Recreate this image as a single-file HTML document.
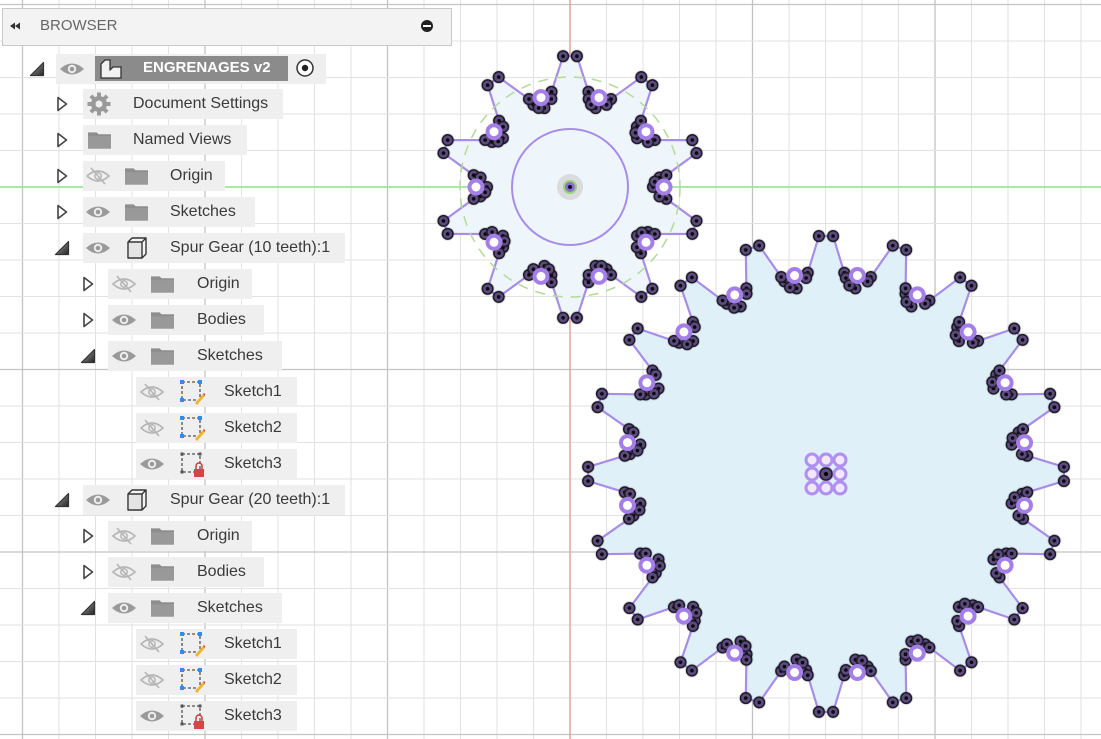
<!DOCTYPE html>
<html><head><meta charset="utf-8">
<style>
html,body{margin:0;padding:0;background:#fff;}
#wrap{position:relative;width:1101px;height:739px;overflow:hidden;background:#fff;font-family:"Liberation Sans",sans-serif;}
svg{position:absolute;left:0;top:0;}
.row{position:absolute;height:30px;background:#efefef;}
.t{position:absolute;font-size:16px;color:#3a3a3a;line-height:18px;white-space:nowrap;}
.ic{position:absolute;}
#hdr{position:absolute;left:2px;top:8px;width:448px;height:36px;background:#f3f3f3;border:1px solid #c9c9c9;}
</style></head><body>
<div id="wrap">
<svg id="cv" width="1101" height="739" viewBox="0 0 1101 739"></svg>

<svg width="1101" height="739" style="pointer-events:none">
<defs>
<symbol id="triO" viewBox="0 0 12 16"><path d="M2 1.5 L10.5 8 L2 14.5 Z" fill="#fff" stroke="#444" stroke-width="1.6" stroke-linejoin="round"/></symbol>
<symbol id="triD" viewBox="0 0 16 16"><defs><linearGradient id="gd" x1="0" y1="0" x2="1" y2="1"><stop offset="0" stop-color="#aaa"/><stop offset="1" stop-color="#222"/></linearGradient></defs><path d="M1.5 14.5 L14.5 1.5 L14.5 14.5 Z" fill="url(#gd)" stroke="#333" stroke-width="1.2" stroke-linejoin="round"/></symbol>
<symbol id="eye" viewBox="0 0 26 16"><path d="M1 8 Q13 -3 25 8 Q13 19 1 8 Z" fill="#9a9a9a"/><circle cx="13" cy="8" r="4.2" fill="#efefef"/><circle cx="13" cy="8" r="2.3" fill="#9a9a9a"/></symbol>
<symbol id="eyeO" viewBox="0 0 26 18"><path d="M2 9 Q13 -1 24 9 Q13 19 2 9 Z" fill="none" stroke="#b5b5b5" stroke-width="1.6"/><circle cx="13" cy="9" r="3.2" fill="none" stroke="#b5b5b5" stroke-width="1.5"/><line x1="6" y1="1" x2="20" y2="17" stroke="#b5b5b5" stroke-width="1.6"/></symbol>
<symbol id="fold" viewBox="0 0 24 18"><path d="M0 1 H9 L11 3 H24 V18 H0 Z" fill="#8e8e8e"/><rect x="0" y="5" width="24" height="13" fill="#999"/></symbol>
<symbol id="cube" viewBox="0 0 22 24"><path d="M2 6 L6 2 H20 V18 L16 22 H2 Z" fill="#f4f4f4" stroke="#333" stroke-width="1.4" stroke-linejoin="round"/><path d="M2 6 H16 V22 M16 6 L20 2" fill="none" stroke="#333" stroke-width="1.4"/><rect x="3" y="7" width="12" height="14" fill="#e4e4e4"/></symbol>
<symbol id="gear" viewBox="0 0 24 24"><g fill="#999"><circle cx="12" cy="12" r="8"/><g id="gt"><rect x="10" y="0.5" width="4" height="23"/></g><use href="#gt" transform="rotate(45 12 12)"/><use href="#gt" transform="rotate(90 12 12)"/><use href="#gt" transform="rotate(135 12 12)"/></g><circle cx="12" cy="12" r="3.5" fill="#efefef"/></symbol>
<symbol id="sk" viewBox="0 0 26 26"><rect x="3" y="3" width="18" height="18" fill="none" stroke="#555" stroke-width="1.3" stroke-dasharray="3 2"/><rect x="1" y="1" width="4" height="4" fill="#2a8ff0"/><rect x="19" y="1" width="4" height="4" fill="#2a8ff0"/><rect x="1" y="19" width="4" height="4" fill="#2a8ff0"/><path d="M16 24 L24 15 L26 17 L18 26 Z" fill="#f0b429"/><path d="M24 15 L26 17 L27 16 L25 14 Z" fill="#e03a3a"/></symbol>
<symbol id="skL" viewBox="0 0 26 26"><rect x="3" y="3" width="18" height="18" fill="none" stroke="#555" stroke-width="1.3" stroke-dasharray="3 2"/><rect x="1.5" y="1.5" width="3" height="3" fill="#555"/><rect x="19.5" y="1.5" width="3" height="3" fill="#555"/><rect x="1.5" y="19.5" width="3" height="3" fill="#555"/><path d="M17 18 V15 A3 3 0 0 1 23 15 V18" fill="none" stroke="#d03a3a" stroke-width="1.5"/><rect x="15" y="18" width="10" height="8" fill="#d64545"/></symbol>
</defs>
</svg>

<div id="hdr"></div>
<svg width="460" height="50" style="pointer-events:none">
<path d="M10 26 L15 22.5 V29.5 Z M15 26 L20 22.5 V29.5 Z" fill="#333"/>
<circle cx="427" cy="26" r="6" fill="#222"/><rect x="423" y="25" width="8" height="2" fill="#fff"/>
</svg>
<div class="t" style="left:40px;top:17px;color:#666;font-size:15px;">BROWSER</div>

<div class="row" style="left:56px;top:54px;width:270px;"></div>
<div class="row" style="left:95px;top:56px;width:193px;height:25px;background:#8b8b8b;"></div>
<div class="t" style="left:143px;top:59px;color:#fff;font-weight:bold;font-size:15px;">ENGRENAGES v2</div>

<div class="row" style="left:83px;top:89px;width:200px;"></div>
<div class="t" style="left:133px;top:95px;">Document Settings</div>
<div class="row" style="left:83px;top:125px;width:164px;"></div>
<div class="t" style="left:133px;top:131px;">Named Views</div>
<div class="row" style="left:83px;top:161px;width:142px;"></div>
<div class="t" style="left:170px;top:167px;">Origin</div>
<div class="row" style="left:83px;top:197px;width:172px;"></div>
<div class="t" style="left:170px;top:203px;">Sketches</div>
<div class="row" style="left:83px;top:233px;width:262px;"></div>
<div class="t" style="left:170px;top:239px;">Spur Gear (10 teeth):1</div>
<div class="row" style="left:108px;top:269px;width:144px;"></div>
<div class="t" style="left:197px;top:275px;">Origin</div>
<div class="row" style="left:108px;top:305px;width:156px;"></div>
<div class="t" style="left:197px;top:311px;">Bodies</div>
<div class="row" style="left:108px;top:341px;width:174px;"></div>
<div class="t" style="left:197px;top:347px;">Sketches</div>
<div class="row" style="left:136px;top:377px;width:161px;"></div>
<div class="t" style="left:224px;top:383px;">Sketch1</div>
<div class="row" style="left:136px;top:413px;width:161px;"></div>
<div class="t" style="left:224px;top:419px;">Sketch2</div>
<div class="row" style="left:136px;top:449px;width:161px;"></div>
<div class="t" style="left:224px;top:455px;">Sketch3</div>
<div class="row" style="left:83px;top:485px;width:262px;"></div>
<div class="t" style="left:170px;top:491px;">Spur Gear (20 teeth):1</div>
<div class="row" style="left:108px;top:521px;width:144px;"></div>
<div class="t" style="left:197px;top:527px;">Origin</div>
<div class="row" style="left:108px;top:557px;width:156px;"></div>
<div class="t" style="left:197px;top:563px;">Bodies</div>
<div class="row" style="left:108px;top:593px;width:174px;"></div>
<div class="t" style="left:197px;top:599px;">Sketches</div>
<div class="row" style="left:136px;top:629px;width:161px;"></div>
<div class="t" style="left:224px;top:635px;">Sketch1</div>
<div class="row" style="left:136px;top:665px;width:161px;"></div>
<div class="t" style="left:224px;top:671px;">Sketch2</div>
<div class="row" style="left:136px;top:701px;width:161px;"></div>
<div class="t" style="left:224px;top:707px;">Sketch3</div>

<svg width="460" height="739" style="pointer-events:none">
<use href="#triD" x="29" y="61" width="16" height="16"/>
<use href="#eye" x="59" y="61" width="26" height="16"/>
<rect x="100" y="58" width="22" height="21" fill="#8b8b8b"/>
<path d="M101 64 L105 60 H110 V70 H117 V78 H101 Z" fill="#f2f2f2" stroke="#333" stroke-width="1.3"/>
<path d="M110 70 L113 67 H121 V78 H117" fill="#f2f2f2" stroke="#333" stroke-width="1.3"/>
<circle cx="305" cy="68" r="8" fill="#fff" stroke="#333" stroke-width="1.5"/><circle cx="305" cy="68" r="3.2" fill="#222"/>

<use href="#triO" x="56" y="96" width="12" height="16"/>
<use href="#gear" x="87" y="92" width="24" height="24"/>
<use href="#triO" x="56" y="132" width="12" height="16"/>
<use href="#fold" x="88" y="131" width="23" height="18"/>
<use href="#triO" x="56" y="168" width="12" height="16"/>
<use href="#eyeO" x="85" y="167" width="26" height="18"/>
<use href="#fold" x="125" y="167" width="23" height="18"/>
<use href="#triO" x="56" y="204" width="12" height="16"/>
<use href="#eye" x="85" y="204" width="26" height="16"/>
<use href="#fold" x="125" y="203" width="23" height="18"/>
<use href="#triD" x="54" y="240" width="16" height="16"/>
<use href="#eye" x="85" y="240" width="26" height="16"/>
<use href="#cube" x="126" y="236" width="22" height="24"/>
<use href="#triO" x="82" y="276" width="12" height="16"/>
<use href="#eyeO" x="111" y="275" width="26" height="18"/>
<use href="#fold" x="151" y="275" width="23" height="18"/>
<use href="#triO" x="82" y="312" width="12" height="16"/>
<use href="#eye" x="111" y="312" width="26" height="16"/>
<use href="#fold" x="151" y="311" width="23" height="18"/>
<use href="#triD" x="80" y="348" width="16" height="16"/>
<use href="#eye" x="111" y="348" width="26" height="16"/>
<use href="#fold" x="151" y="347" width="23" height="18"/>
<use href="#eyeO" x="139" y="383" width="26" height="18"/>
<use href="#sk" x="179" y="379" width="26" height="26"/>
<use href="#eyeO" x="139" y="419" width="26" height="18"/>
<use href="#sk" x="179" y="415" width="26" height="26"/>
<use href="#eye" x="139" y="456" width="26" height="16"/>
<use href="#skL" x="179" y="451" width="26" height="26"/>
<use href="#triD" x="54" y="492" width="16" height="16"/>
<use href="#eye" x="85" y="492" width="26" height="16"/>
<use href="#cube" x="126" y="488" width="22" height="24"/>
<use href="#triO" x="82" y="528" width="12" height="16"/>
<use href="#eyeO" x="111" y="527" width="26" height="18"/>
<use href="#fold" x="151" y="527" width="23" height="18"/>
<use href="#triO" x="82" y="564" width="12" height="16"/>
<use href="#eyeO" x="111" y="563" width="26" height="18"/>
<use href="#fold" x="151" y="563" width="23" height="18"/>
<use href="#triD" x="80" y="600" width="16" height="16"/>
<use href="#eye" x="111" y="600" width="26" height="16"/>
<use href="#fold" x="151" y="599" width="23" height="18"/>
<use href="#eyeO" x="139" y="635" width="26" height="18"/>
<use href="#sk" x="179" y="631" width="26" height="26"/>
<use href="#eyeO" x="139" y="671" width="26" height="18"/>
<use href="#sk" x="179" y="667" width="26" height="26"/>
<use href="#eye" x="139" y="708" width="26" height="16"/>
<use href="#skL" x="179" y="703" width="26" height="26"/>
</svg>
</div>

<script>
(function(){
var cv=document.getElementById("cv"),s="";
var sp=36.5,ox=570,oy=187;
for(var k=-20;k<=20;k++){var x=ox+k*sp;if(x<-1||x>1102)continue;var mj=(k%5==0);
 s+='<line x1="'+x+'" y1="0" x2="'+x+'" y2="739" stroke="'+(mj?'#c4c4c4':'#e2e2e2')+'" stroke-width="'+(mj?1.3:1)+'"/>';}
for(var k=-10;k<=20;k++){var y=oy+k*sp;if(y<-1||y>740)continue;var mj=(k%5==0);
 s+='<line x1="0" y1="'+y+'" x2="1101" y2="'+y+'" stroke="'+(mj?'#c4c4c4':'#e2e2e2')+'" stroke-width="'+(mj?1.3:1)+'"/>';}
s+='<line x1="0" y1="187" x2="1101" y2="187" stroke="#8ee88e" stroke-width="1.5"/>';
s+='<line x1="570" y1="0" x2="570" y2="739" stroke="#f09a9a" stroke-width="1.3"/>';
function P(cx,cy,a,r){a=a*Math.PI/180;return [cx+r*Math.cos(a),cy-r*Math.sin(a)];}
function gear(cx,cy,n,f,Rt,th,Rf,fh,Rv,Rr,fill,din){
 var pts=[],dots=[],rings=[],h=180/n;
 for(var i=0;i<n;i++){var a=f+i*360/n;
  var p1=P(cx,cy,a-fh,Rf),p2=P(cx,cy,a-th,Rt),p3=P(cx,cy,a+th,Rt),p4=P(cx,cy,a+fh,Rf),p5=P(cx,cy,a+h,Rv);
  pts.push(p1,p2,p3,p4,p5);
  dots.push(p2,p3,p1,p4,P(cx,cy,a+h-din[0],Rv-din[1]),P(cx,cy,a+h+din[0],Rv-din[1]),P(cx,cy,a+h,Rv-din[2]),P(cx,cy,a+h+din[0]*0.6,Rv-din[2]+2));
  rings.push(P(cx,cy,a+h,Rr));}
 var d="M"+pts.map(function(p){return p[0].toFixed(1)+" "+p[1].toFixed(1);}).join(" L")+"Z";
 return {o:'<path d="'+d+'" fill="'+fill+'" stroke="#a88de8" stroke-width="2.2" stroke-linejoin="round"/>',dots:dots,rings:rings};}
var g1=gear(570,187,10,90,131,3,97,11,94,94,"#eef6fc",[6,4,11]);
var g2=gear(826,474,20,90,238,1.7,202,5.2,200,201,"#dff0f9",[3.2,3,12]);
s+=g2.o+g1.o;
s+='<circle cx="570" cy="187" r="110" fill="none" stroke="#b4d99a" stroke-width="1.5" stroke-dasharray="10 8"/>';
s+='<circle cx="570" cy="187" r="58" fill="none" stroke="#a88de8" stroke-width="2"/>';
s+='<circle cx="570" cy="187" r="13" fill="#d0d0d0" opacity="0.7"/><circle cx="570" cy="187" r="7" fill="#9bd17a"/><circle cx="570" cy="187" r="5" fill="#8a6fd0"/><circle cx="570" cy="187" r="2" fill="#111"/>';
for(var i=-1;i<=1;i++)for(var j=-1;j<=1;j++){s+='<circle cx="'+(826+i*14)+'" cy="'+(474+j*14)+'" r="6" fill="#efe8ff" stroke="#b08ff0" stroke-width="3"/>';}
s+='<circle cx="826" cy="474" r="6" fill="#5a4a7a" stroke="#222" stroke-width="1.5"/><circle cx="826" cy="474" r="2" fill="#000"/>';
function dot(p){var x=p[0].toFixed(1),y=p[1].toFixed(1);return '<circle cx="'+x+'" cy="'+y+'" r="7" fill="#000" opacity="0.12"/><circle cx="'+x+'" cy="'+y+'" r="5.3" fill="#5b4a7e" stroke="#1e1a26" stroke-width="1.5"/><circle cx="'+x+'" cy="'+y+'" r="1.8" fill="#0a0a0a"/>';}
function ring(p){return '<circle cx="'+p[0].toFixed(1)+'" cy="'+p[1].toFixed(1)+'" r="6.5" fill="#fff" stroke="#a57fe8" stroke-width="4"/>';}
[g1,g2].forEach(function(g){g.dots.forEach(function(p){s+=dot(p);});g.rings.forEach(function(p){s+=ring(p);});});
cv.innerHTML=s;
})();
</script>
</body></html>
